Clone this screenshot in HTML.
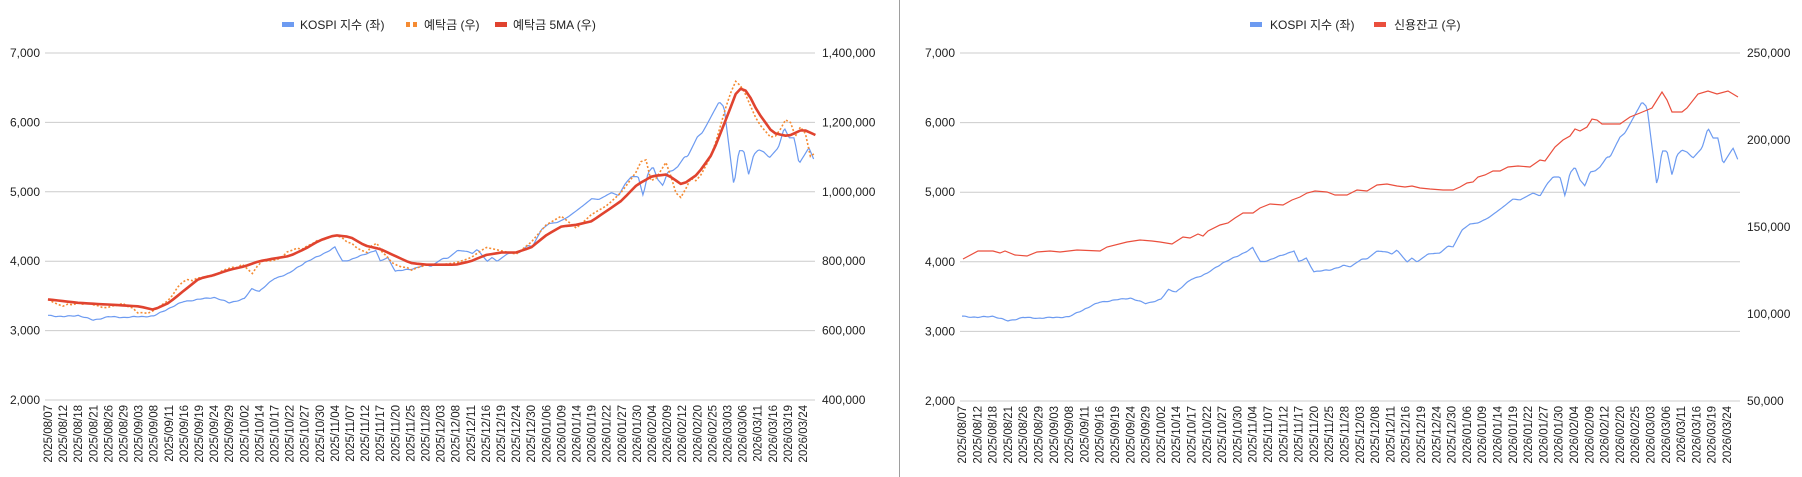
<!DOCTYPE html>
<html><head><meta charset="utf-8">
<style>
html,body{margin:0;padding:0;background:#fff;}
svg{display:block;font-family:"Liberation Sans","Noto Sans CJK KR",sans-serif;}
</style></head>
<body>
<svg id="s" width="1802" height="477" xmlns="http://www.w3.org/2000/svg"></svg>
<script>
const S=document.getElementById('s');
let h='';
const labels=["2025/08/07","2025/08/12","2025/08/18","2025/08/21","2025/08/26","2025/08/29","2025/09/03","2025/09/08","2025/09/11","2025/09/16","2025/09/19","2025/09/24","2025/09/29","2025/10/02","2025/10/14","2025/10/17","2025/10/22","2025/10/27","2025/10/30","2025/11/04","2025/11/07","2025/11/12","2025/11/17","2025/11/20","2025/11/25","2025/11/28","2025/12/03","2025/12/08","2025/12/11","2025/12/16","2025/12/19","2025/12/24","2025/12/30","2026/01/06","2026/01/09","2026/01/14","2026/01/19","2026/01/22","2026/01/27","2026/01/30","2026/02/04","2026/02/09","2026/02/12","2026/02/20","2026/02/25","2026/03/03","2026/03/06","2026/03/11","2026/03/16","2026/03/19","2026/03/24"];
const kospiA=[[0,3220],[1,3200],[2,3220],[3,3150],[4,3200],[5,3190],[6,3200],[7,3210],[8,3320],[9,3420],[10,3450],[11,3480],[12,3400],[13,3460],[13.5,3600],[14,3570],[15,3750],[16,3830],[17,3980],[18,4080],[19,4200],[19.5,4000],[20,4020],[21,4100],[21.7,4160],[22,4000],[22.5,4050],[23,3860],[24,3880],[25,3950]];
const kPix=[[1350,267],[1362,259],[1367,259],[1377,251],[1387,252],[1392,254],[1397,250],[1407,262],[1412,258],[1417,262],[1428,254],[1440,253],[1448,246],[1453,247],[1462,230],[1470,224],[1478,223],[1488,218],[1495,213],[1503,207],[1513,199],[1520,200],[1533,193],[1540,196],[1547,184],[1553,177],[1560,177],[1565,196],[1570,173],[1575,167],[1580,180],[1585,186],[1590,172],[1595,171],[1600,167],[1607,157],[1610,157],[1620,137],[1625,133],[1642,102],[1647,107],[1657,186],[1662,151],[1667,151],[1672,175],[1677,155],[1682,150],[1687,152],[1693,158],[1702,148],[1708,128],[1713,138],[1718,138],[1723,164],[1733,148],[1738,160]];
const kospi=kospiA.concat(kPix.map(p=>[(p[0]-962)/15.3,7000-(p[1]-53)/348*5000]));
const dep=[[0,690],[1,670],[2,680],[3,675],[4,665],[5,680],[6,650],[7,655],[8,690],[9,745],[10,750],[11,760],[12,780],[13,790],[13.5,760],[14,800],[15,800],[16,830],[17,840],[18,860],[19,875],[20,855],[21,820],[21.7,860],[22,830],[23,790],[24,775],[25,790],[26,790],[27,795],[28,810],[29,840],[30,830],[31,820],[32,855],[33,905],[34,930],[35,895],[36,935],[37,960],[38,1000],[39,1060],[39.5,1110],[40,1020],[41,1090],[41.5,1000],[42,980],[42.5,1040],[43,1030],[44,1110],[45,1260],[45.5,1320],[46,1300],[47,1200],[48,1150],[48.5,1180],[49,1220],[49.5,1160],[50,1200],[50.5,1100],[51,1120]];
const ma=[[0,690],[2,680],[4,675],[6,670],[7,660],[8,680],[9,715],[10,750],[11,760],[12,775],[13,785],[14,800],[15,808],[16,815],[17,835],[18,860],[19,875],[20,870],[21,845],[22,835],[23,815],[24,795],[25,790],[26,790],[27,790],[28,800],[29,818],[30,825],[31,825],[32,840],[33,875],[34,900],[35,905],[36,915],[37,945],[38,975],[39,1020],[40,1045],[41,1050],[42,1020],[43,1050],[44,1110],[45,1220],[45.7,1300],[46.3,1290],[47,1230],[48,1170],[49,1160],[50,1180],[51,1160]];
const credPix=[[963,259],[978,251],[993,251],[1000,253],[1005,251],[1015,255],[1027,256],[1037,252],[1050,251],[1060,252],[1077,250],[1100,251],[1107,247],[1127,242],[1140,240],[1152,241],[1160,242],[1172,244],[1183,237],[1190,238],[1198,234],[1203,236],[1208,231],[1220,225],[1228,223],[1235,218],[1243,213],[1253,213],[1260,208],[1270,204],[1283,205],[1292,200],[1300,197],[1307,193],[1315,191],[1327,192],[1335,195],[1347,195],[1357,190],[1367,191],[1377,185],[1387,184],[1397,186],[1405,187],[1412,186],[1420,188],[1430,189],[1443,190],[1453,190],[1460,187],[1467,183],[1473,182],[1478,177],[1485,175],[1493,171],[1500,171],[1508,167],[1518,166],[1530,167],[1540,160],[1545,161],[1555,147],[1563,140],[1570,136],[1575,129],[1580,131],[1587,127],[1592,119],[1597,120],[1602,124],[1620,124],[1630,117],[1640,113],[1652,108],[1662,92],[1667,100],[1672,112],[1682,112],[1687,108],[1698,94],[1708,91],[1717,94],[1728,91],[1738,97]];
function interp(k,t){for(let i=0;i<k.length-1;i++){if(t<=k[i+1][0]){const a=k[i],b=k[i+1];const f=(t-a[0])/(b[0]-a[0]);return a[1]+(b[1]-a[1])*f;}}return k[k.length-1][1];}
function pts(k,x0,dx,ymap,step,noise,tmax){let p=[];const end=tmax||k[k.length-1][0];for(let t=0;t<=end+1e-6;t+=step){let v=interp(k,t);if(t<25)v+=noise*Math.sin(t*7.3+1.1)*Math.sin(t*3.1);p.push((x0+t*dx).toFixed(1)+','+ymap(v).toFixed(1));}return p.join(' ');}
function chart(o){
  for(let i=0;i<6;i++){const y=o.y0+i*(o.y1-o.y0)/5;
    h+=`<line x1="${o.gx0}" y1="${y}" x2="${o.gx1}" y2="${y}" stroke="#cccccc" stroke-width="1"/>`;
    h+=`<text x="${o.gx0-5}" y="${y+4}" font-size="12" fill="#222" text-anchor="end">${(7000-i*1000).toLocaleString('en-US')}</text>`;}
  const n=o.rl.length;
  for(let i=0;i<n;i++){const y=o.y0+i*(o.y1-o.y0)/(n-1);
    h+=`<text x="${o.gx1+7}" y="${y+4}" font-size="12" fill="#222">${o.rl[i]}</text>`;}
  labels.forEach((l,i)=>{const x=o.lx0+i*o.ldx;h+=`<text transform="translate(${x+4},${o.y1+5}) rotate(-90)" font-size="11.5" fill="#222" text-anchor="end">${l}</text>`;});
}
const ly=v=>53+(7000-v)/5000*347;
chart({y0:53,y1:400,gx0:45,gx1:815,lx0:48,ldx:15.1,rl:["1,400,000","1,200,000","1,000,000","800,000","600,000","400,000"]});
chart({y0:53,y1:401,gx0:960,gx1:1740,lx0:962,ldx:15.3,rl:["250,000","200,000","150,000","100,000","50,000"]});
const dy=v=>53+(1400-v)/1000*347;
const kEnd=(1738-962)/15.3;
h+=`<polyline fill="none" stroke="#6d9bf1" stroke-width="1.2" points="${pts(kospi,48,15.1,ly,0.1,8,kEnd)}"/>`;
h+=`<polyline fill="none" stroke="#f58b33" stroke-width="1.6" stroke-dasharray="2,2" points="${pts(dep,48,15.1,dy,0.33,4)}"/>`;
h+=`<polyline fill="none" stroke="#e0432f" stroke-width="2.6" stroke-linejoin="round" points="${pts(ma,48,15.1,dy,0.33,0)}"/>`;
const ry=v=>53+(7000-v)/5000*348;
h+=`<polyline fill="none" stroke="#6d9bf1" stroke-width="1.2" points="${pts(kospi,962,15.3,ry,0.1,8,kEnd)}"/>`;
h+=`<polyline fill="none" stroke="#ea4f3d" stroke-width="1.2" points="${credPix.map(p=>p.join(',')).join(' ')}"/>`;
h+=`<line x1="899.5" y1="0" x2="899.5" y2="477" stroke="#9e9e9e" stroke-width="1"/>`;
h+=`<rect x="282" y="22" width="12" height="5" fill="#6d9bf1"/><text x="300" y="29" font-size="12" fill="#222">KOSPI 지수 (좌)</text>`;
h+=`<rect x="406" y="22" width="4" height="5" fill="#f58b33"/><rect x="413" y="22" width="4" height="5" fill="#f58b33"/><text x="424" y="29" font-size="12" fill="#222">예탁금 (우)</text>`;
h+=`<rect x="495" y="22" width="12" height="5" fill="#e0432f"/><text x="513" y="29" font-size="12" fill="#222">예탁금 5MA (우)</text>`;
h+=`<rect x="1250" y="22" width="12" height="5" fill="#6d9bf1"/><text x="1270" y="29" font-size="12" fill="#222">KOSPI 지수 (좌)</text>`;
h+=`<rect x="1374" y="22" width="12" height="5" fill="#ea4f3d"/><text x="1394" y="29" font-size="12" fill="#222">신용잔고 (우)</text>`;
S.innerHTML=h;
</script>
</body></html>
